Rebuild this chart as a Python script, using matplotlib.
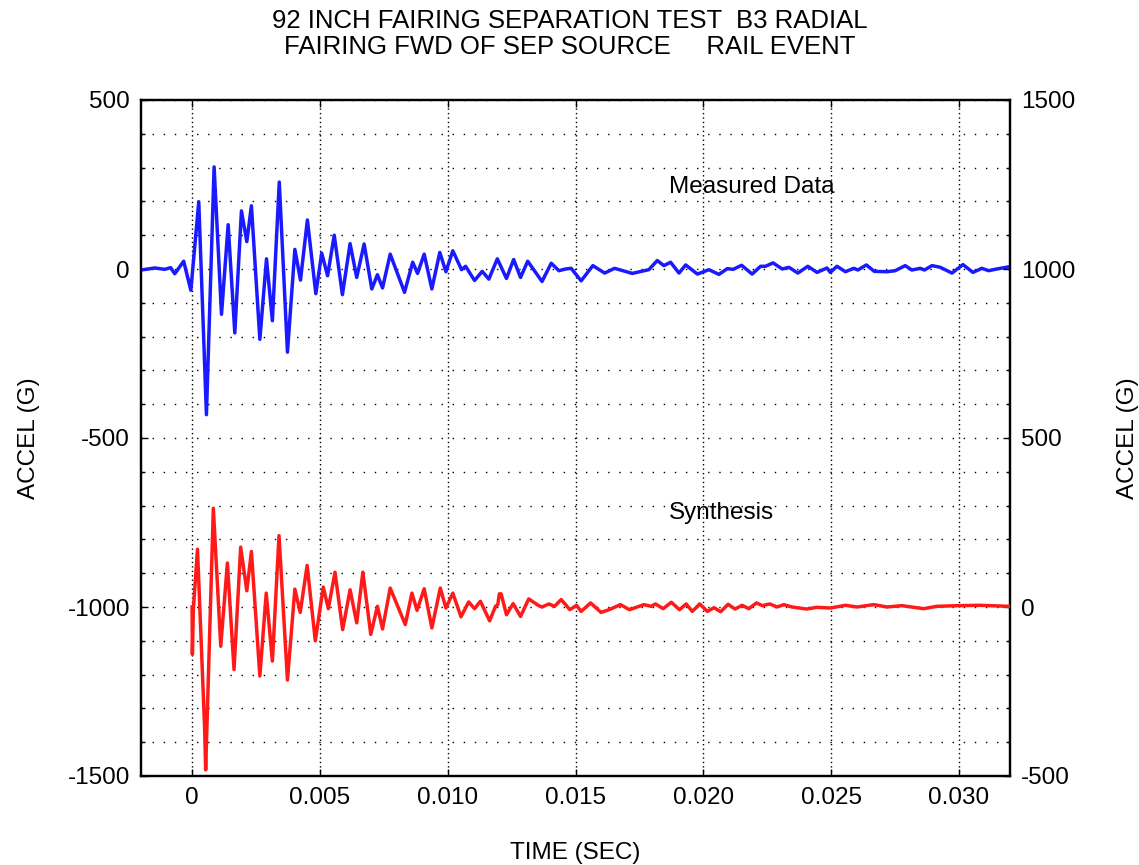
import matplotlib
matplotlib.use("Agg")
import matplotlib.pyplot as plt
from matplotlib.ticker import MultipleLocator, FuncFormatter

plt.rcParams['font.family'] = ['Liberation Sans', 'DejaVu Sans']
plt.rcParams['axes.unicode_minus'] = False

title_lines = ["92 INCH FAIRING SEPARATION TEST  B3 RADIAL",
               "FAIRING FWD OF SEP SOURCE     RAIL EVENT"]
x_label = "TIME (SEC)"
y_label = "ACCEL (G)"
label_measured = "Measured Data"
label_synth = "Synthesis"

meas_t = [-0.0020, -0.00146, -0.00107, -0.00084, -0.00068, -0.00033, -0.00005, 0.00026, 0.00056, 0.00086,
          0.00115, 0.00141, 0.00167, 0.00193, 0.00214, 0.00232, 0.00265, 0.00291, 0.00314, 0.00341,
          0.00373, 0.00402, 0.00424, 0.00451, 0.00484, 0.00507, 0.00530, 0.00556, 0.00588, 0.00618,
          0.00644, 0.00673, 0.00703, 0.00725, 0.00745, 0.00775, 0.00831, 0.00863, 0.00882, 0.00908,
          0.00938, 0.00969, 0.00993, 0.01020, 0.01054, 0.01070, 0.01105, 0.01135, 0.01161, 0.01194,
          0.01230, 0.01258, 0.01285, 0.01313, 0.01369, 0.01405, 0.01435, 0.01461, 0.01483, 0.01522,
          0.01568, 0.01614, 0.01653, 0.01722, 0.01787, 0.01820, 0.01846, 0.01872, 0.01905, 0.01931,
          0.01977, 0.02022, 0.02061, 0.02094, 0.02117, 0.02150, 0.02191, 0.02224, 0.02243, 0.02273,
          0.02309, 0.02335, 0.02370, 0.02409, 0.02445, 0.02484, 0.02497, 0.02523, 0.02556, 0.02589,
          0.02605, 0.02638, 0.02669, 0.02719, 0.02751, 0.02790, 0.02816, 0.02849, 0.02865, 0.02895,
          0.02927, 0.02973, 0.03016, 0.03055, 0.03090, 0.03116, 0.03148, 0.03200]
meas_g = [-3, 3, -1, 4, -14, 23, -63, 199, -431, 302,
          -134, 131, -189, 172, 81, 187, -208, 30, -153, 257,
          -246, 58, -33, 145, -73, 47, -20, 100, -76, 75,
          -25, 74, -59, -17, -56, 44, -69, 20, -13, 44,
          -59, 49, -8, 54, -2, 8, -34, -7, -30, 30,
          -28, 28, -25, 23, -37, 17, -5, 0, 2, -35,
          10, -12, 2, -13, -2, 25, 10, 20, -12, 12,
          -15, -2, -16, 1, -1, 11, -15, 8, 8, 18,
          0, 5, -12, 8, -10, 3, -10, 8, -8, 2,
          -3, 12, -7, -8, -5, 10, -3, 2, -3, 10,
          5, -12, 13, -10, 2, -5, 0, 7]

# Synthesis (right axis, G)
syn_t = [0.0, 0.00001, 0.00005, 0.00021, 0.00049, 0.00053, 0.00083, 0.00112, 0.00138, 0.00164,
         0.00190, 0.00214, 0.00232, 0.00265, 0.00290, 0.00314, 0.00340, 0.00373, 0.00402, 0.00423,
         0.00450, 0.00482, 0.00513, 0.00533, 0.00559, 0.00589, 0.00618, 0.00644, 0.00668, 0.00699,
         0.00725, 0.00745, 0.00775, 0.00834, 0.00860, 0.00880, 0.00908, 0.00938, 0.00971, 0.00993,
         0.01020, 0.01052, 0.01082, 0.01105, 0.01128, 0.01164, 0.01187, 0.01196, 0.01202, 0.01209,
         0.01230, 0.01256, 0.01285, 0.01317, 0.01356, 0.01369, 0.01396, 0.01418, 0.01444, 0.01478,
         0.01504, 0.01522, 0.01559, 0.01600, 0.01631, 0.01676, 0.01711, 0.01768, 0.01796, 0.01813,
         0.01843, 0.01875, 0.01907, 0.01933, 0.01957, 0.01986, 0.02016, 0.02042, 0.02068, 0.02097,
         0.02124, 0.02152, 0.02178, 0.02208, 0.02231, 0.02260, 0.02289, 0.02315, 0.02347, 0.02404,
         0.02445, 0.02497, 0.02556, 0.02602, 0.02667, 0.02719, 0.02777, 0.02862, 0.02914, 0.02999,
         0.03083, 0.03194]
syn_g = [0, -140, -5, 171, -360, -482, 292, -116, 130, -185,
         177, 48, 164, -204, 41, -160, 211, -216, 53, -16,
         123, -100, 59, -5, 103, -67, 51, -47, 103, -81,
         2, -65, 56, -52, 41, -10, 54, -62, 56, -3,
         41, -29, 15, -5, 17, -41, 2, 7, 39, 39,
         -23, 10, -28, 24, 4, 0, 9, 2, 22, -8,
         5, -13, 12, -16, -8, 7, -8, 7, 2, 9,
         -5, 14, -8, 9, -13, 9, -13, -2, -14, 8,
         -6, 5, -5, 12, 4, 9, 0, 7, 0, -6,
         -1, -3, 5, 0, 7, 0, 4, -5, 2, 4,
         5, 2]

x_ticks = [0.0, 0.005, 0.010, 0.015, 0.020, 0.025, 0.030]
left_ticks = [-1500, -1000, -500, 0, 500]
right_ticks = [-500, 0, 500, 1000, 1500]

fig = plt.figure(figsize=(11.39, 8.65), dpi=100)
ax = fig.add_axes([141/1139, 1-776/865, (1010-141)/1139, (776-100)/865])
ax2 = ax.twinx()

ax.plot(meas_t, meas_g, color='#1a1aff', lw=2.5, solid_joinstyle='round', zorder=3)
ax2.plot(syn_t, syn_g, color='#ff1a1a', lw=2.5, solid_joinstyle='round', zorder=3)

ax.set_xlim(-0.002, 0.032)
ax.set_ylim(-1500, 500)
ax2.set_ylim(-500, 1500)

ax.set_xticks(x_ticks)
ax.xaxis.set_major_formatter(FuncFormatter(lambda v, p: "0" if abs(v) < 1e-12 else f"{v:.3f}"))
ax.set_yticks(left_ticks)
ax.yaxis.set_minor_locator(MultipleLocator(100))
ax2.set_yticks(right_ticks)
ax2.yaxis.set_minor_locator(MultipleLocator(100))

fs = 17.5
ax.tick_params(axis='both', which='both', direction='in', labelsize=fs, top=True, width=1.0)
ax.tick_params(axis='both', which='major', length=5, pad=8)
ax.tick_params(axis='y', which='minor', length=3)
ax2.tick_params(axis='y', which='both', direction='in', labelsize=fs, width=1.0)
ax2.tick_params(axis='y', which='major', length=5, pad=8)
ax2.tick_params(axis='y', which='minor', length=3)

for a in (ax, ax2):
    for s in a.spines.values():
        s.set_linewidth(1.6)
        s.set_color('black')

ax.grid(True, axis='y', which='both', color='black', lw=1.0, linestyle=(0, (1, 7)))
ax.grid(True, axis='x', which='major', color='black', lw=1.0, linestyle=(0, (1, 2.2)))
ax.set_axisbelow(True)

ax.set_xlabel(x_label, fontsize=fs, labelpad=24)
ax.set_ylabel(y_label, fontsize=fs, labelpad=20)
ax2.set_ylabel(y_label, fontsize=fs, labelpad=30)

ax.text(0.01864, 243, label_measured, fontsize=fs, ha='left', va='center')
ax.text(0.01864, -722, label_synth, fontsize=fs, ha='left', va='center')

tfs = 18.5
fig.text(0.5, 1-21/865, title_lines[0], fontsize=tfs, ha='center', va='center')
fig.text(0.5, 1-47/865, title_lines[1], fontsize=tfs, ha='center', va='center')

fig.savefig("out.png", dpi=100)
